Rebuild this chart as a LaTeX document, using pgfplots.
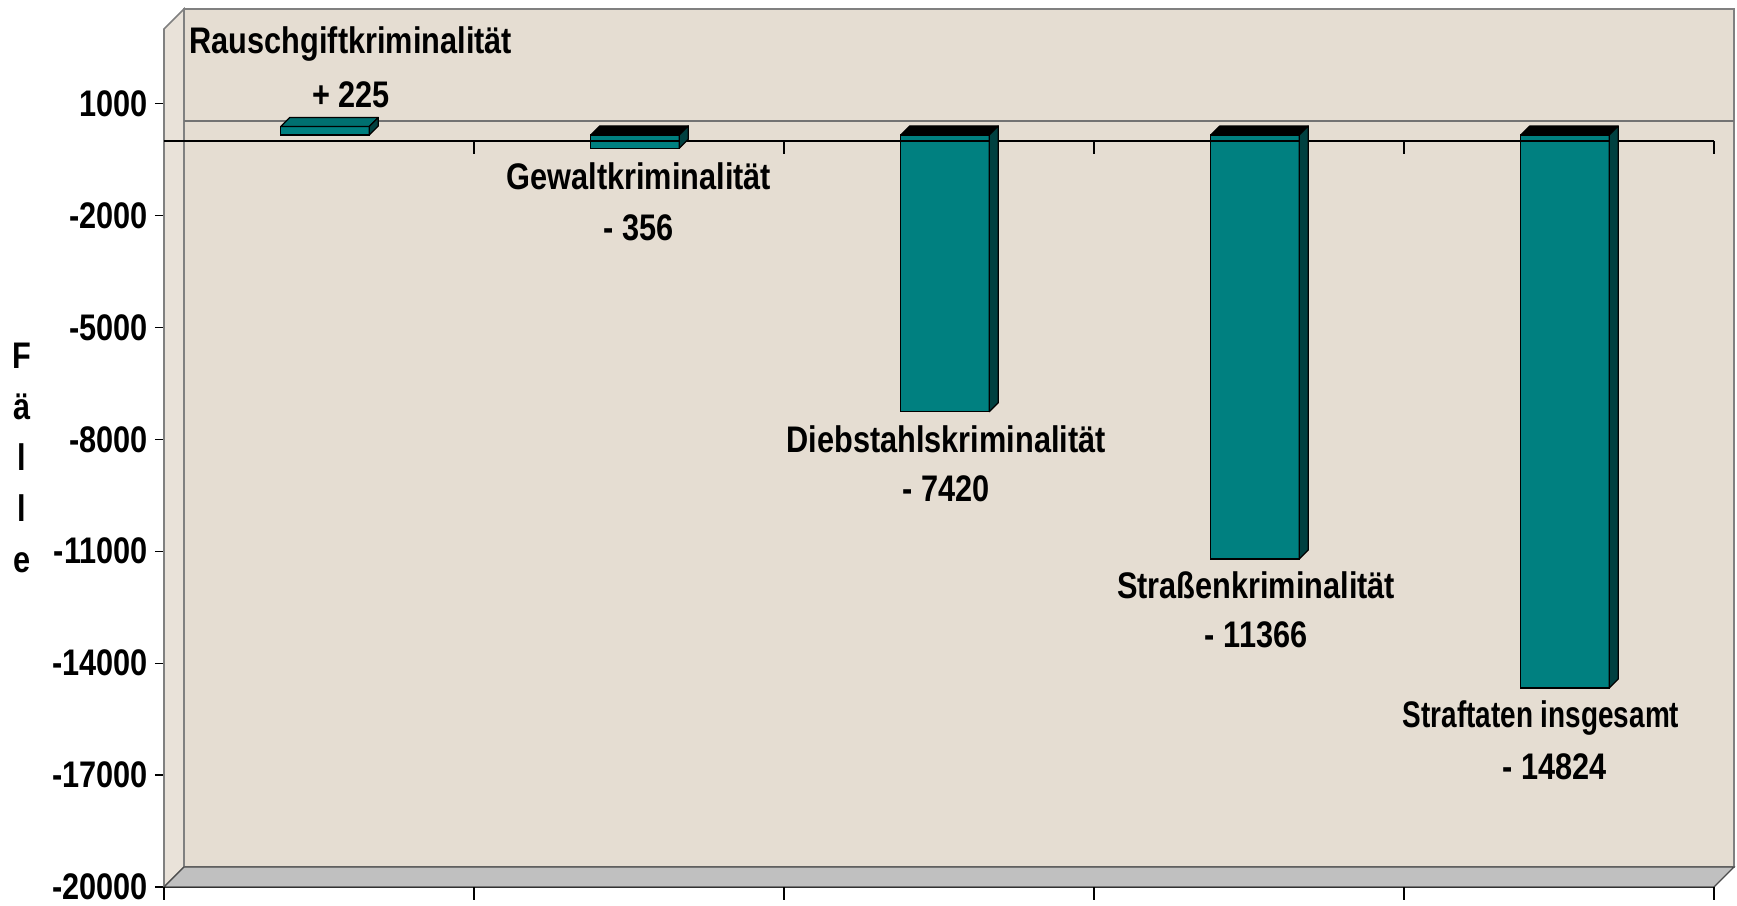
\documentclass[border=0pt]{standalone}
\usepackage{fontspec}
\setmainfont{Liberation Sans}[FakeStretch=0.83]
\usepackage{graphicx}
\usepackage{pgfplots}
\pgfplotsset{compat=1.18}
\definecolor{wall}{HTML}{E5DDD2}
\definecolor{lwall}{HTML}{E9E2D9}
\definecolor{floorc}{HTML}{C0C0C0}
\definecolor{barf}{HTML}{008080}
\definecolor{bars}{HTML}{004040}
\definecolor{bart}{HTML}{007070}
\newcommand\yu{0.0186522}% pt per unit = 429pt/23000
\pgfplotsset{box3d/.style={scatter, only marks, mark=text, text mark={},
  visualization depends on={rawy \as \val},
  scatter/@pre marker code/.code={%
    \pgfmathsetmacro\T{max(0,-\val)*\yu+3}%
    \pgfmathsetmacro\B{min(0,-\val)*\yu+3}%
    \filldraw[fill=#1,draw=black,line width=0.6pt,line join=round] (-19.15pt,\T pt) -- (25.15pt,\T pt) -- (29.65pt,\T pt+4.5pt) -- (-14.65pt,\T pt+4.5pt) -- cycle;
    \filldraw[fill=bars,draw=black,line width=0.6pt,line join=round] (25.15pt,\B pt) -- (25.15pt,\T pt) -- (29.65pt,\T pt+4.5pt) -- (29.65pt,\B pt+4.5pt) -- cycle;
  },
  scatter/@post marker code/.code={}}}
\tikzset{lab/.style={font=\fontsize{18.5}{20}\selectfont\bfseries, anchor=center, inner sep=0pt}}
\begin{document}
\begin{tikzpicture}
\begin{axis}[name=ax, scale only axis, width=775pt, height=429pt,
  xmin=0, xmax=5, ymin=-20000, ymax=3000,
  clip=false,
  axis x line*=bottom, axis y line*=left,
  xtick=\empty,
  scaled y ticks=false,
  ytick={-20000,-17000,-14000,-11000,-8000,-5000,-2000,1000},
  yticklabels={-20000,-17000,-14000,-11000,-8000,-5000,-2000,1000},
  tick align=outside, major tick length=4.5pt,
  tick style={black, line width=0.6pt},
  axis line style={black, line width=0.6pt},
  yticklabel style={font=\fontsize{18.5}{20}\selectfont\bfseries},
]
% back wall
\filldraw[fill=wall, draw=gray, line width=0.8pt]
  ([shift={(10pt,10pt)}]axis cs:0,-20000) -- ([shift={(10pt,10pt)}]axis cs:0,3000)
  -- ([shift={(10pt,10pt)}]axis cs:5,3000) -- ([shift={(10pt,10pt)}]axis cs:5,-20000) -- cycle;
% left wall
\filldraw[fill=lwall, draw=gray, line width=0.8pt]
  (axis cs:0,-20000) -- (axis cs:0,3000) -- ([shift={(10pt,10pt)}]axis cs:0,3000)
  -- ([shift={(10pt,10pt)}]axis cs:0,-20000) -- cycle;
% floor
\filldraw[fill=floorc, draw=black!70, line width=0.6pt]
  (axis cs:0,-20000) -- ([shift={(10pt,10pt)}]axis cs:0,-20000)
  -- ([shift={(10pt,10pt)}]axis cs:5,-20000) -- (axis cs:5,-20000) -- cycle;
% zero line on back wall
\draw[gray!90!black, line width=0.8pt] ([shift={(10pt,10pt)}]axis cs:0,0) -- ([shift={(10pt,10pt)}]axis cs:5,0);
% bars
\addplot[box3d=bart] coordinates {(0.5,225)};
\addplot[box3d=black] coordinates {(1.5,-356) (2.5,-7420) (3.5,-11366) (4.5,-14824)};
\addplot[ybar, bar width=44.3pt, bar shift=3pt, yshift=3pt, fill=barf, draw=black, line width=0.6pt]
  coordinates {(0.5,225) (1.5,-356) (2.5,-7420) (3.5,-11366) (4.5,-14824)};
% front zero line with ticks
\draw[black, line width=0.7pt] (axis cs:0,0) -- (axis cs:5,0);
\pgfplotsinvokeforeach{1,2,3,4,5}{
  \draw[black, line width=0.6pt] (axis cs:#1,0) -- ([yshift=-6.5pt]axis cs:#1,0);
}
\pgfplotsinvokeforeach{0,1,2,3,4,5}{
  \draw[black, line width=0.6pt] (axis cs:#1,-20000) -- ([yshift=-6.5pt]axis cs:#1,-20000);
}
% labels
\node[lab] at (axis cs:0.603,2607) {Rauschgiftkriminalität};
\node[lab] at (axis cs:0.603,1239) {+ 225};
\node[lab] at (axis cs:1.532,-960) {Gewaltkriminalität};
\node[lab] at (axis cs:1.532,-2328) {- 356};
\node[lab] at (axis cs:2.523,-7986) {Diebstahlskriminalität};
\node[lab] at (axis cs:2.523,-9327) {- 7420};
\node[lab] at (axis cs:3.523,-11903) {Straßenkriminalität};
\node[lab] at (axis cs:3.523,-13244) {- 11366};
\node[lab] at (axis cs:4.442,-15470) {\scalebox{0.91}[1]{Straftaten insgesamt}};
\node[lab] at (axis cs:4.487,-16784) {- 14824};
\node[font=\fontsize{18.5}{25.5}\selectfont\bfseries, align=center, anchor=center]
  at (axis description cs:-0.0916,0.5) {F\\ä\\l\\l\\e};
\end{axis}
\pgfresetboundingbox
\path ([shift={(-82pt,-9.5pt)}]ax.south west) rectangle ([shift={(786.5pt,443.5pt)}]ax.south west);
\end{tikzpicture}
\end{document}
